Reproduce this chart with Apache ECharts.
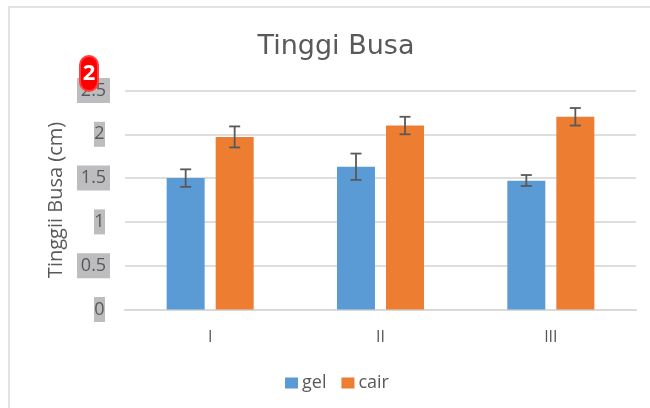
<!DOCTYPE html>
<html><head><meta charset="utf-8">
<style>html,body{margin:0;padding:0;background:#fff}#c{width:650px;height:408px;filter:blur(0.5px)}</style>
<script src="https://cdn.jsdelivr.net/npm/echarts@6/dist/echarts.min.js"></script>
</head><body><div id="c"></div>
<script>
const categories = ['I', 'II', 'III'];
const gelValues = [1.5, 1.63, 1.47];
const cairValues = [1.97, 2.1, 2.2];
const gelLow = [1.4, 1.48, 1.41];
const gelHigh = [1.6, 1.78, 1.535];
const cairLow = [1.85, 2.0, 2.1];
const cairHigh = [2.09, 2.2, 2.3];
const yTicks = ['0', '0.5', '1', '1.5', '2', '2.5'];
const FONT = '"Open Sans", sans-serif';
const TXT = '#595959';

function errorSeries(name, low, high, offset) {
  return {
    type: 'custom', name: name + ' error', silent: true, z: 5,
    data: categories.map((c, i) => [i, low[i], high[i]]),
    encode: { x: 0, y: [1, 2] },
    renderItem(params, api) {
      const a = api.coord([api.value(0), api.value(1)]);
      const b = api.coord([api.value(0), api.value(2)]);
      const x = a[0] + offset, cap = 5.5;
      const style = { stroke: '#595959', lineWidth: 1.8, fill: null };
      return { type: 'group', children: [
        { type: 'line', shape: { x1: x, y1: a[1], x2: x, y2: b[1] }, style },
        { type: 'line', shape: { x1: x - cap, y1: a[1], x2: x + cap, y2: a[1] }, style },
        { type: 'line', shape: { x1: x - cap, y1: b[1], x2: x + cap, y2: b[1] }, style }
      ]};
    }
  };
}
const boxBase = { fontFamily: FONT, fontSize: 18, color: TXT, backgroundColor: '#bdbdc0', height: 25, lineHeight: 25, align: 'center' };

const chart = echarts.init(document.getElementById('c'), null, { renderer: 'canvas' });
chart.setOption({
  animation: false,
  backgroundColor: '#fff',
  title: { text: 'Tinggi Busa', left: 331, top: 28, textAlign: 'center',
    textStyle: { fontFamily: '"DejaVu Sans", sans-serif', fontSize: 27, fontWeight: 'normal', color: TXT } },
  legend: { data: ['gel', 'cair'], top: 369, left: 280, itemWidth: 13, itemHeight: 11, itemGap: 15,
    icon: 'rect',
    textStyle: { fontFamily: FONT, fontSize: 18, color: TXT, padding: [0, 0, 0, -1] } },
  grid: { left: 125, right: 14, top: 90.5, bottom: 98.5 },
  xAxis: { type: 'category', data: categories,
    axisLine: { lineStyle: { color: '#d9d9d9', width: 2 } }, axisTick: { show: false },
    axisLabel: { fontFamily: FONT, fontSize: 16, color: TXT, margin: 20 } },
  yAxis: { type: 'value', min: 0, max: 2.5, interval: 0.5,
    name: 'Tinggii Busa (cm)', nameLocation: 'middle', nameGap: 58,
    nameTextStyle: { fontFamily: FONT, fontSize: 20, color: TXT },
    axisLine: { show: false }, axisTick: { show: false },
    splitLine: { lineStyle: { color: '#dedede', width: 2 } },
    axisLabel: { margin: 15,
      formatter: v => { const t = yTicks[Math.round(v * 2)]; return t.length > 1 ? `{dec|${t}}` : `{int|${t}}{sp|}`; },
      rich: {
        dec: { ...boxBase, width: 33 },
        int: { ...boxBase, width: 11 },
        sp: { width: 5, height: 25 }
      } } },
  series: [
    { name: 'gel', type: 'bar', data: gelValues, barWidth: 38, barGap: '29%', itemStyle: { color: '#5b9bd5' } },
    { name: 'cair', type: 'bar', data: cairValues, barWidth: 38, itemStyle: { color: '#ed7d31' } },
    errorSeries('gel', gelLow, gelHigh, -24.5),
    errorSeries('cair', cairLow, cairHigh, 24.5)
  ],
  graphic: [
    { type: 'polyline', silent: true, shape: { points: [[9, 408], [9, 7], [650, 7]] },
      style: { stroke: '#e2e2e2', lineWidth: 2, fill: null } },
    { type: 'rect', silent: true, z: 100, shape: { x: 80, y: 56, width: 18, height: 35, r: 9 },
      style: { fill: '#f00', stroke: '#ff4040', lineWidth: 2 } },
    { type: 'text', silent: true, z: 101, x: 89, y: 74,
      style: { text: '2', fill: '#fff', font: 'bold 22px "Open Sans", sans-serif', align: 'center', verticalAlign: 'middle' } }
  ]
});
</script></body></html>
